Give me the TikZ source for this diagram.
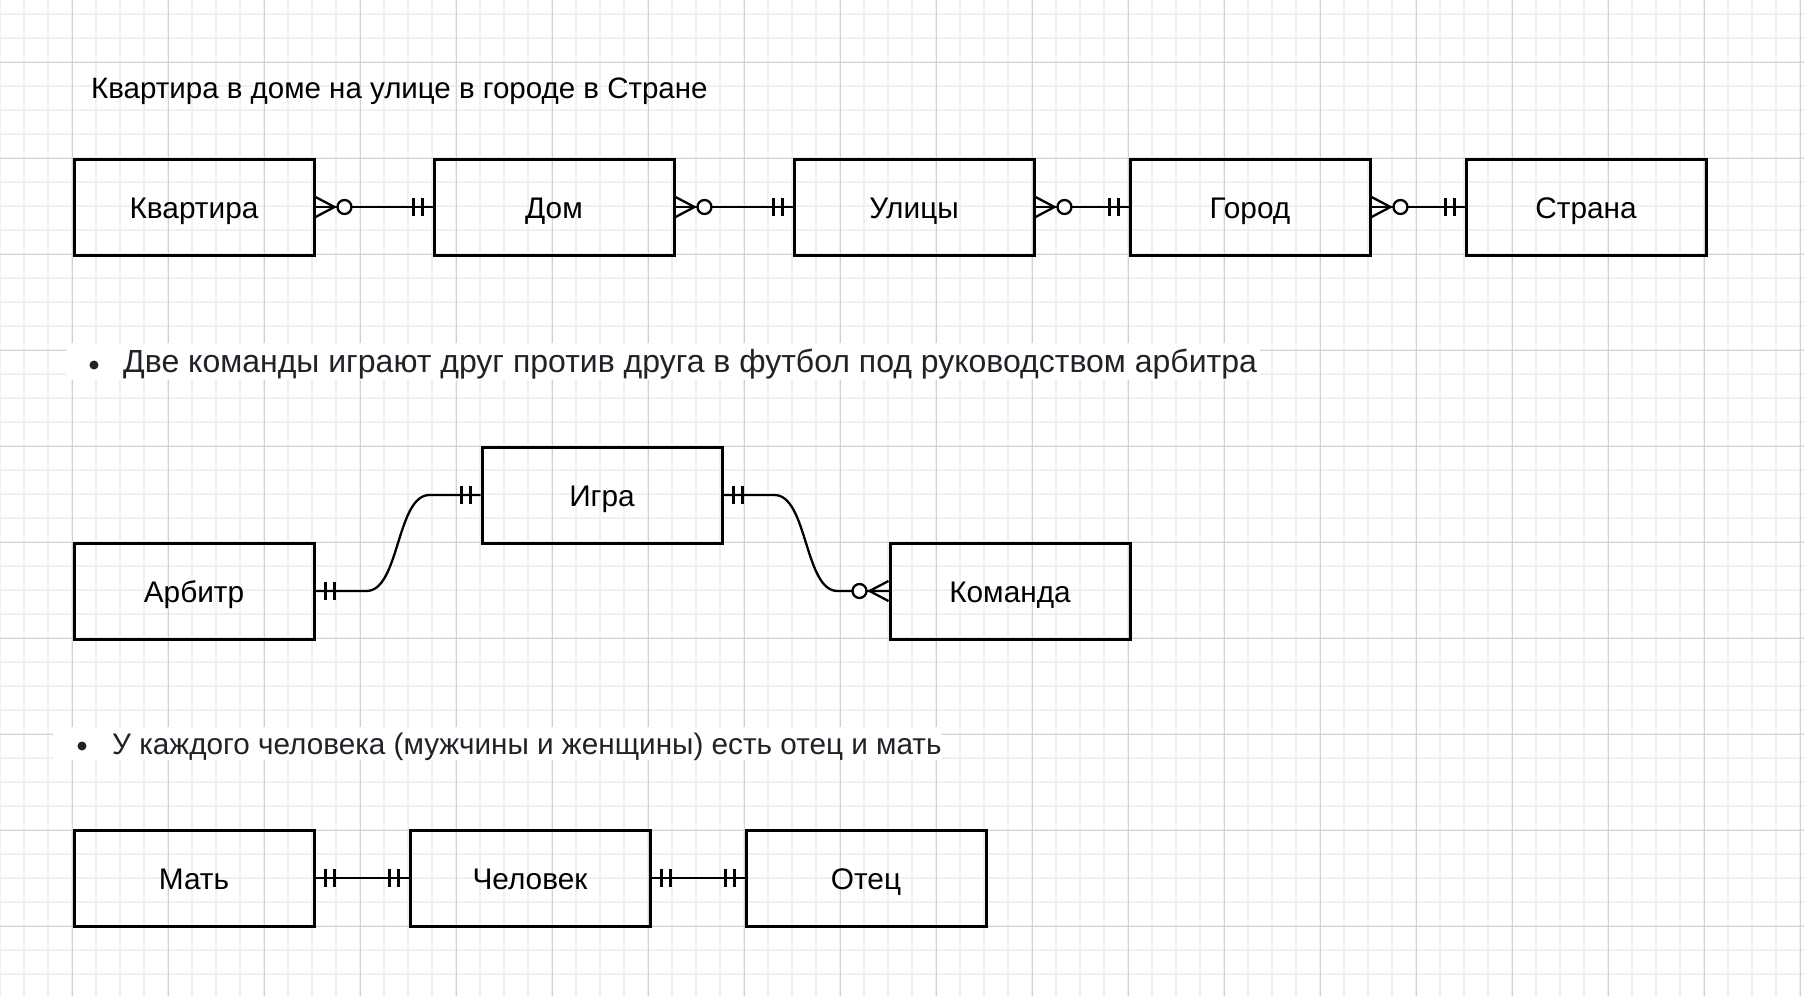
\documentclass[tikz,border=0pt]{standalone}
\usepackage{fontspec}
\setmainfont{Liberation Sans}
\usetikzlibrary{calc}
\definecolor{gridminor}{HTML}{F0F0F0}
\definecolor{gridmajor}{HTML}{D2D2D2}
\definecolor{bultext}{HTML}{1F2328}
\begin{document}
\begin{tikzpicture}[x=1pt,y=-1pt,
  entity/.style={draw=black, line width=3pt, minimum width=240pt, minimum height=96pt,
    inner sep=0pt, font=\fontsize{29.8}{36}\selectfont, text height=22pt, text depth=0pt},
  conn/.style={draw=black, line width=2.3pt},
  gminor/.style={draw=gridminor, line width=1.3pt},
  gmajor/.style={draw=gridmajor, line width=1pt},
  titletext/.style={anchor=base west, inner sep=0pt, font=\fontsize{29.5}{36}\selectfont},
  bullettext/.style={anchor=base west, inner sep=0pt, text=bultext},
  crowmany/.pic={
    \draw[conn] (0,-10) -- (19,0) -- (0,10);
    \draw[conn] (0,0) -- (19,0);
    \draw[conn, fill=white] (29,0) circle[radius=7pt];
  },
  mandone/.pic={
    \draw[conn] (10,-9) -- (10,9);
    \draw[conn] (19,-9) -- (19,9);
  }
]
\useasboundingbox (0,0) rectangle (1804,996);
\fill[white] (0,0) rectangle (1804,996);
% grid
\foreach \x in {0,24,...,1800} \draw[gminor] (\x,0) -- (\x,996);
\foreach \y in {14,38,...,996} \draw[gminor] (0,\y) -- (1804,\y);
\foreach \x in {72,168,...,1800} \draw[gmajor] (\x,0) -- (\x,996);
\foreach \y in {62,158,...,996} \draw[gmajor] (0,\y) -- (1804,\y);

% title
\node[titletext] (title) at (91,98) {Квартира в доме на улице в городе в Стране};

% row 1
\node[entity] (kv) at (194,207) {Квартира};
\node[entity] (dom) at (554,207) {Дом};
\node[entity] (ul) at (914,207) {Улицы};
\node[entity] (gor) at (1250,207) {Город};
\node[entity] (str) at (1586,207) {Страна};
\draw[conn] (kv.east) -- (dom.west);
\draw[conn] (dom.east) -- (ul.west);
\draw[conn] (ul.east) -- (gor.west);
\draw[conn] (gor.east) -- (str.west);
\pic at (kv.east) {crowmany};
\pic[xscale=-1] at (dom.west) {mandone};
\pic at (dom.east) {crowmany};
\pic[xscale=-1] at (ul.west) {mandone};
\pic at (ul.east) {crowmany};
\pic[xscale=-1] at (gor.west) {mandone};
\pic at (gor.east) {crowmany};
\pic[xscale=-1] at (str.west) {mandone};

% bullet 1
\fill[white] (66,343) rectangle (1260,380);
\fill[bultext] (94,365) circle[radius=4.5pt];
\node[bullettext, font=\fontsize{32}{38}\selectfont] (b1) at (123,372) {Две команды играют друг против друга в футбол под руководством арбитра};

% row 2
\node[entity] (igra) at (602,495) {Игра};
\node[entity] (arb) at (194,591) {Арбитр};
\node[entity] (kom) at (1010,591) {Команда};
\coordinate (c1) at ($(arb.east)+(51,0)$);
\coordinate (c2) at ($(igra.west)+(-51,0)$);
\coordinate (c3) at ($(igra.east)+(51,0)$);
\coordinate (c4) at ($(kom.west)+(-51,0)$);
\draw[conn] (arb.east) -- (c1) .. controls ($(c1)+(33,0)$) and ($(c2)+(-33,0)$) .. (c2) -- (igra.west);
\draw[conn] (igra.east) -- (c3) .. controls ($(c3)+(33,0)$) and ($(c4)+(-33,0)$) .. (c4) -- (kom.west);
\pic at (arb.east) {mandone};
\pic[xscale=-1] at (igra.west) {mandone};
\pic at (igra.east) {mandone};
\pic[xscale=-1] at (kom.west) {crowmany};

% bullet 2
\fill[white] (53,727) rectangle (942,760);
\fill[bultext] (82,746) circle[radius=4.5pt];
\node[bullettext, font=\fontsize{29.7}{36}\selectfont] (b2) at (112,754) {У каждого человека (мужчины и женщины) есть отец и мать};

% row 3
\node[entity] (mat) at (194,878) {Мать};
\node[entity] (chel) at (530,878) {Человек};
\node[entity] (otec) at (866,878) {Отец};
\draw[conn] (mat.east) -- (chel.west);
\draw[conn] (chel.east) -- (otec.west);
\pic at (mat.east) {mandone};
\pic[xscale=-1] at (chel.west) {mandone};
\pic at (chel.east) {mandone};
\pic[xscale=-1] at (otec.west) {mandone};
\end{tikzpicture}
\end{document}
